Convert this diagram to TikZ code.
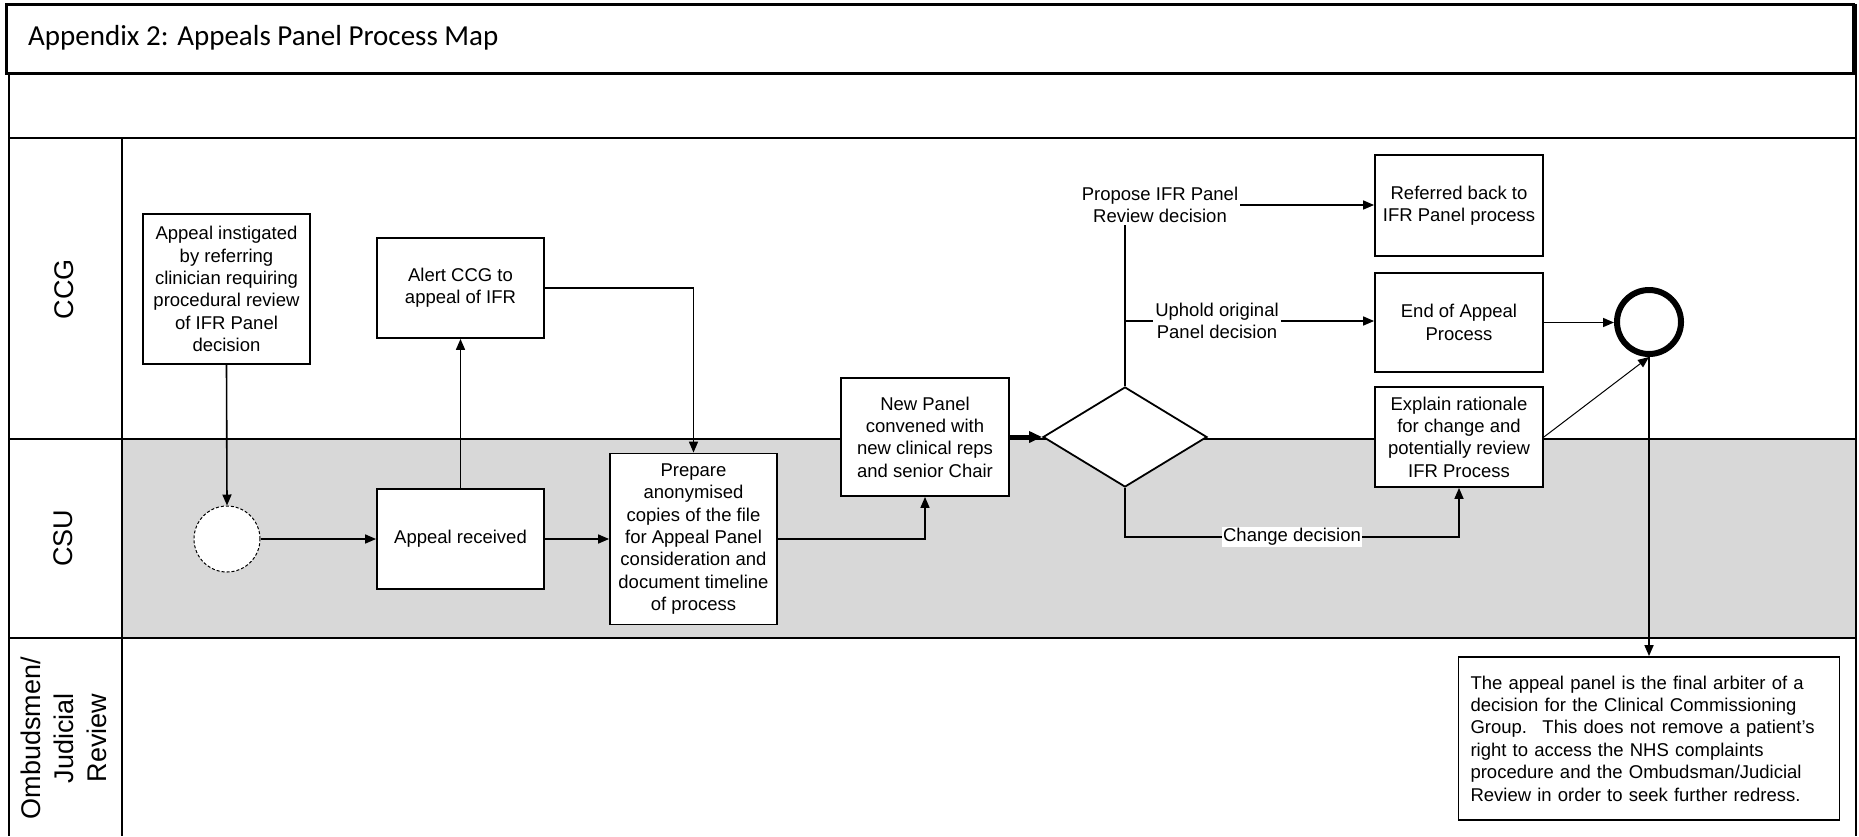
\documentclass[tikz,border=0pt]{standalone}
\usepackage{fontspec}
\setmainfont{Liberation Sans}
\newfontfamily\titlefont{Carlito}
\usetikzlibrary{arrows.meta,shapes.geometric}
\definecolor{lanegray}{RGB}{216,216,216}
\begin{document}
\begin{tikzpicture}[x=1pt,y=-1pt,
  box/.style={draw,line width=1.8pt,fill=white,align=center,inner sep=0pt,font=\fontsize{18.5}{22.4}\selectfont},
  lbl/.style={align=center,inner sep=2pt,font=\fontsize{18.5}{22.4}\selectfont},
  lanetxt/.style={rotate=90,align=center,font=\fontsize{27}{33}\selectfont},
  frameline/.style={line width=1.6pt},
  link/.style={line width=1.6pt},
  arr/.style={link,-{Triangle[length=11pt,width=9pt]}},
]
\useasboundingbox (0,0) rectangle (1859,836);

% lanes
\fill[lanegray] (122,439) rectangle (1856,638);
\draw[frameline] (9,73) -- (9,836);
\draw[frameline] (1856,4) -- (1856,836);
\draw[frameline] (9,138) -- (1856,138);
\draw[frameline] (122,138) -- (122,836);
\draw[frameline] (9,439) -- (1856,439);
\draw[frameline] (9,638) -- (1856,638);

% title
\draw[line width=3pt,fill=white] (6,4) rectangle (1853,73);
\node[anchor=base west,inner sep=0pt,font=\titlefont\fontsize{29}{34}\selectfont] (title) at (28,45) {Appendix 2: Appeals Panel Process Map};

% lane labels
\node[lanetxt] (lccg) at (64,289) {CCG};
\node[lanetxt] (lcsu) at (63,538) {CSU};
\node[lanetxt] (lomb) at (64,738) {Ombudsmen/\\Judicial\\Review};

% nodes
\node[box,minimum width=167pt,minimum height=150pt] (inst) at (226.5,289) {Appeal instigated\\by referring\\clinician requiring\\procedural review\\of IFR Panel\\decision};
\node[box,minimum width=167pt,minimum height=100pt] (alert) at (460.5,288) {Alert CCG to\\appeal of IFR};
\node[box,minimum width=167pt,minimum height=100pt] (recv) at (460.5,539) {Appeal received};
\node[box,minimum width=167pt,minimum height=171pt] (prep) at (693.5,539) {Prepare\\anonymised\\copies of the file\\for Appeal Panel\\consideration and\\document timeline\\of process};
\node[box,minimum width=168pt,minimum height=118pt] (newp) at (925,437) {New Panel\\convened with\\new clinical reps\\and senior Chair};
\node[draw,diamond,line width=1.8pt,fill=white,minimum width=164pt,minimum height=100pt,inner sep=0pt] (dia) at (1125,437) {};
\node[box,minimum width=168pt,minimum height=101pt] (refer) at (1459,205.5) {Referred back to\\IFR Panel process};
\node[box,minimum width=168pt,minimum height=99pt] (endap) at (1459,322.5) {End of Appeal\\Process};
\node[box,minimum width=168pt,minimum height=100pt] (expl) at (1459,437) {Explain rationale\\for change and\\potentially review\\IFR Process};
\node[circle,draw,fill=white,line width=1pt,densely dashed,minimum size=66pt,inner sep=0pt] (startc) at (227,539) {};
\node[circle,draw,fill=white,line width=6pt,minimum size=64pt,inner sep=0pt] (endc) at (1649,322) {};
\node[draw,line width=1.8pt,fill=white,align=left,text width=357pt,inner xsep=12pt,inner ysep=0pt,minimum height=163pt,font=\fontsize{18.5}{22.4}\selectfont] (note) at (1649,738.5) {The appeal panel is the final arbiter of a\\decision for the Clinical Commissioning\\Group.~ This does not remove a patient’s\\right to access the NHS complaints\\procedure and the Ombudsman/Judicial\\Review in order to seek further redress.};

% edge labels
\node[lbl] (propose) at (1160,205) {Propose IFR Panel\\Review decision};
\node[lbl] (uphold) at (1217,321) {Uphold original\\Panel decision};
\node[lbl,fill=white,inner sep=1pt] (chg) at (1292,537) {Change decision};

% connectors
\draw[arr] (inst.south) -- (startc.north);
\draw[arr] (startc.east) -- (recv.west);
\draw[arr] (recv.north) -- (alert.south);
\draw[arr] (recv.east) -- (prep.west);
\draw[arr] (alert.east) -| (prep.north);
\draw[arr] (prep.east) -| (newp.south);
\draw[link,line width=4pt,-{Triangle[length=13pt,width=11pt]}] (newp.east) -- (dia.west);
\draw[link] (dia.north) -- (dia.north |- propose.south);
\draw[arr] (propose.east) -- (propose.east -| refer.west);
\draw[link] (dia.north |- uphold.west) -- (uphold.west);
\draw[arr] (uphold.east) -- (uphold.east -| endap.west);
\draw[arr] (endap.east) -- (endap.east -| endc.west);
\draw[link,line width=1pt,-{Triangle[length=11pt,width=9pt]}] (expl.east) -- (endc.south);
\draw[arr] (endc.south) -- (note.north);
\draw[link] (dia.south) |- (chg.west);
\draw[arr] (chg.east) -| (expl.south);
\end{tikzpicture}
\end{document}
